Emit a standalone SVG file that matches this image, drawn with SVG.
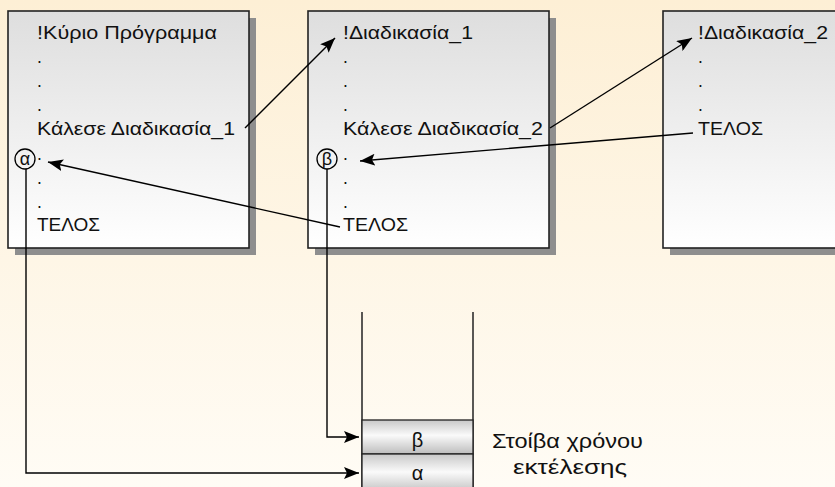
<svg xmlns="http://www.w3.org/2000/svg" width="835" height="487" viewBox="0 0 835 487">
<defs>
<linearGradient id="bg" x1="0" y1="0" x2="0" y2="1"><stop offset="0" stop-color="#fdefd5"/><stop offset="1" stop-color="#fffcf5"/></linearGradient>
<linearGradient id="boxg" x1="0" y1="0" x2="0" y2="1"><stop offset="0" stop-color="#dedede"/><stop offset="1" stop-color="#ffffff"/></linearGradient>
<linearGradient id="cellg" x1="0" y1="0" x2="0" y2="1"><stop offset="0" stop-color="#c8c8c8"/><stop offset="0.45" stop-color="#fafafa"/><stop offset="1" stop-color="#bdbdbd"/></linearGradient>
<marker id="ah" markerUnits="userSpaceOnUse" markerWidth="16" markerHeight="12" refX="15" refY="6" orient="auto"><path d="M0,0 L15,6 L0,12 L3,6 Z" fill="#000"/></marker>
<style>
text{font-family:"Liberation Sans",Arial,sans-serif;fill:#111}
.t{font-size:17.5px}
.cl{font-size:18px}
.big{font-size:20px}
.box{fill:url(#boxg);stroke:#222;stroke-width:1.6}
.sh{fill:#8e8e8e}
.c{fill:none;stroke:#000;stroke-width:1.4}
.cell{fill:url(#cellg);stroke:#222;stroke-width:1.3}
.wall{stroke:#222;stroke-width:1.5;fill:none}
.circ{fill:none;stroke:#000;stroke-width:1.3}
</style>
</defs>
<rect width="835" height="487" fill="url(#bg)"/>
<g id="main">
<rect class="sh" x="15" y="18" width="241" height="237"/>
<rect class="box" x="8" y="11" width="241" height="237"/>
<text class="t" x="37" y="39" textLength="180" lengthAdjust="spacingAndGlyphs">!Κύριο Πρόγραμμα</text>
<text class="t" x="37" y="63">.</text>
<text class="t" x="37" y="87">.</text>
<text class="t" x="37" y="111">.</text>
<text class="t" x="37" y="135" textLength="198" lengthAdjust="spacingAndGlyphs">Κάλεσε Διαδικασία_1</text>
<circle class="circ" cx="25" cy="159" r="10"/>
<text class="cl" x="25" y="165" text-anchor="middle">α</text>
<text class="t" x="37" y="160">.</text>
<text class="t" x="37" y="184">.</text>
<text class="t" x="37" y="208">.</text>
<text class="t" x="37" y="231" textLength="63" lengthAdjust="spacingAndGlyphs">ΤΕΛΟΣ</text>
</g>
<g id="proc1">
<rect class="sh" x="315" y="18" width="241" height="237"/>
<rect class="box" x="308" y="11" width="241" height="237"/>
<text class="t" x="343" y="39" textLength="130" lengthAdjust="spacingAndGlyphs">!Διαδικασία_1</text>
<text class="t" x="343" y="63">.</text>
<text class="t" x="343" y="87">.</text>
<text class="t" x="343" y="111">.</text>
<text class="t" x="343" y="135" textLength="200" lengthAdjust="spacingAndGlyphs">Κάλεσε Διαδικασία_2</text>
<circle class="circ" cx="327" cy="159" r="10"/>
<text class="cl" x="327" y="165" text-anchor="middle">β</text>
<text class="t" x="343" y="160">.</text>
<text class="t" x="343" y="184">.</text>
<text class="t" x="343" y="208">.</text>
<text class="t" x="343" y="231" textLength="65" lengthAdjust="spacingAndGlyphs">ΤΕΛΟΣ</text>
</g>
<g id="proc2">
<rect class="sh" x="670" y="18" width="200" height="237"/>
<rect class="box" x="663" y="11" width="200" height="237"/>
<text class="t" x="698" y="39" textLength="130" lengthAdjust="spacingAndGlyphs">!Διαδικασία_2</text>
<text class="t" x="698" y="63">.</text>
<text class="t" x="698" y="87">.</text>
<text class="t" x="698" y="111">.</text>
<text class="t" x="698" y="135" textLength="65" lengthAdjust="spacingAndGlyphs">ΤΕΛΟΣ</text>
</g>
<g id="stack">
<line class="wall" x1="362" y1="312" x2="362" y2="487"/>
<line class="wall" x1="473" y1="312" x2="473" y2="487"/>
<rect class="cell" x="362" y="420" width="111" height="34"/>
<rect class="cell" x="362" y="454" width="111" height="40"/>
<text class="big" x="417.5" y="447" text-anchor="middle">β</text>
<text class="big" x="417.5" y="480" text-anchor="middle">α</text>
<text class="big" x="492" y="448" textLength="151" lengthAdjust="spacingAndGlyphs">Στοίβα χρόνου</text>
<text class="big" x="513" y="474" textLength="114" lengthAdjust="spacingAndGlyphs">εκτέλεσης</text>
</g>
<g id="connectors">
<line class="c" x1="245" y1="128" x2="335" y2="38" marker-end="url(#ah)"/>
<line class="c" x1="550" y1="128" x2="692" y2="38" marker-end="url(#ah)"/>
<line class="c" x1="693" y1="133" x2="360" y2="161" marker-end="url(#ah)"/>
<line class="c" x1="340" y1="227" x2="48" y2="162" marker-end="url(#ah)"/>
<polyline class="c" points="26,169 26,473 359,473" marker-end="url(#ah)"/>
<polyline class="c" points="327,169 327,437 359,437" marker-end="url(#ah)"/>
</g>
</svg>
